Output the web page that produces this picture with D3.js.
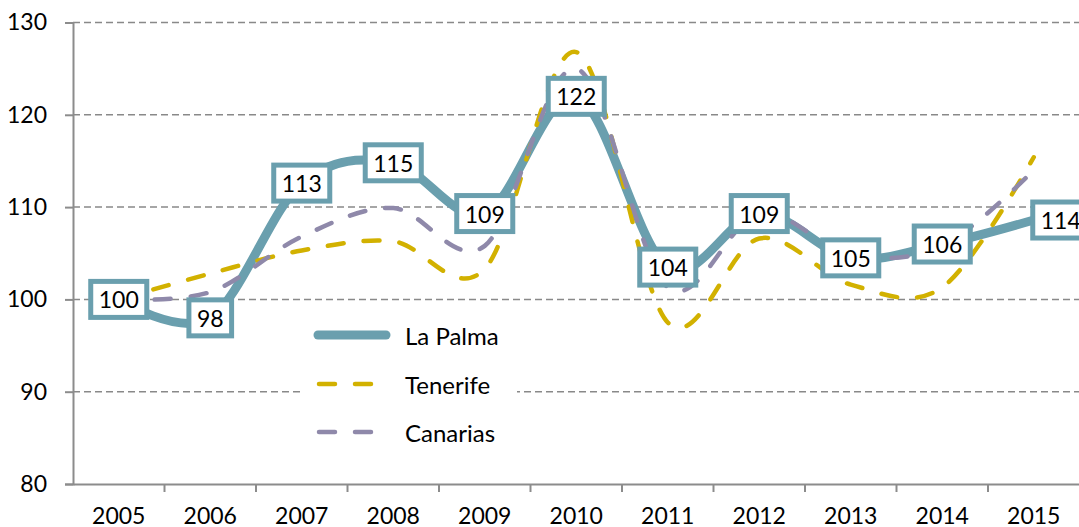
<!DOCTYPE html>
<html>
<head>
<meta charset="utf-8">
<script src="https://cdn.jsdelivr.net/npm/d3@7"></script>
<style>
  body { margin: 0; background: #fff; }
  svg text { font-family: Lato, "Open Sans", sans-serif; fill: #000; }
</style>
</head>
<body>
<svg id="chart" width="1079" height="527"></svg>
<script>
// data
var years = ['2005', '2006', '2007', '2008', '2009', '2010', '2011', '2012', '2013', '2014', '2015'];
var laPalma = [100, 98, 112.6, 114.8, 109.3, 122, 103.5, 109.3, 104.5, 106, 108.6];
var laPalmaLabels = ['100', '98', '113', '115', '109', '122', '104', '109', '105', '106', '114'];
var tenerife = [100, 102.8, 105.3, 106.3, 103.3, 126.8, 97.5, 106.6, 101.6, 101.3, 115.4];
var canarias = [100, 100.8, 106.8, 109.9, 105.8, 125, 101.3, 109.3, 104.8, 105.8, 114];
var yTicks = [80, 90, 100, 110, 120, 130];
var seriesNames = ['La Palma', 'Tenerife', 'Canarias'];

var teal = '#6a9fae';
var gold = '#d2b100';
var lilac = '#8f89aa';

var svg = d3.select('#chart');

var x = d3.scaleBand().domain(years).range([73, 1079.5]);
var y = d3.scaleLinear().domain([80, 130]).range([484, 22.5]);
var cx = function (d, i) { return x(years[i]) + x.bandwidth() / 2; };

// gridlines
svg.append('g').selectAll('line')
    .data(yTicks.filter(function (t) { return t > 80; }))
    .enter().append('line')
    .attr('x1', 73).attr('x2', 1079)
    .attr('y1', function (d) { return y(d); })
    .attr('y2', function (d) { return y(d); })
    .attr('stroke', '#898989')
    .attr('stroke-width', 1.5)
    .attr('stroke-dasharray', '7,4');

// y axis
var yAxis = svg.append('g')
    .attr('transform', 'translate(73,0)')
    .call(d3.axisLeft(y).tickValues(yTicks).tickSize(8).tickPadding(18));
yAxis.select('.domain').attr('stroke', '#8c8c8c').attr('stroke-width', 2);
yAxis.selectAll('.tick line').attr('stroke', '#8c8c8c').attr('stroke-width', 2);
yAxis.selectAll('.tick text').attr('font-size', 23).attr('fill', '#000')
    .style('font-family', 'Lato');

// x axis
var xAxis = svg.append('g')
    .attr('transform', 'translate(0,484)')
    .call(d3.axisBottom(x).tickSize(0).tickPadding(24));
xAxis.select('.domain').attr('stroke', '#8c8c8c').attr('stroke-width', 2);
xAxis.selectAll('.tick text').attr('font-size', 23).attr('fill', '#000')
    .style('font-family', 'Lato');
// tick marks between categories
xAxis.selectAll('.sep')
    .data(years.slice(1))
    .enter().append('line')
    .attr('x1', function (d) { return x(d); })
    .attr('x2', function (d) { return x(d); })
    .attr('y1', 0).attr('y2', 8)
    .attr('stroke', '#8c8c8c').attr('stroke-width', 2);

var line = d3.line()
    .x(cx)
    .y(function (d) { return y(d); })
    .curve(d3.curveCardinal.tension(0));

svg.append('path')
    .attr('d', line(laPalma))
    .attr('fill', 'none')
    .attr('stroke', teal)
    .attr('stroke-width', 9)
    .attr('stroke-linejoin', 'round')
    .attr('stroke-linecap', 'round');

svg.append('path')
    .attr('d', line(tenerife))
    .attr('fill', 'none')
    .attr('stroke', gold)
    .attr('stroke-width', 4.5)
    .attr('stroke-linecap', 'round')
    .attr('stroke-dasharray', '16,20');

svg.append('path')
    .attr('d', line(canarias))
    .attr('fill', 'none')
    .attr('stroke', lilac)
    .attr('stroke-width', 4.5)
    .attr('stroke-linecap', 'round')
    .attr('stroke-dasharray', '16,20');

// data labels for La Palma
var labels = svg.append('g').selectAll('g')
    .data(laPalma)
    .enter().append('g')
    .attr('transform', function (d, i) {
        var px = cx(d, i);
        return 'translate(' + px + ',' + y(d) + ')';
    });

labels.each(function (d, i) {
    var g = d3.select(this);
    var rect = g.append('rect');
    var t = g.append('text')
        .attr('font-size', 23)
        .attr('dominant-baseline', 'central')
        .attr('text-anchor', 'middle')
        .text(laPalmaLabels[i]);
    var w = t.node().getComputedTextLength() + 16;
    var h = 36;
    // the last label sits to the right of its point
    var off = (i === laPalma.length - 1) ? w / 2 - 1 : 0;
    t.attr('x', off);
    rect.attr('x', off - w / 2).attr('y', -h / 2)
        .attr('width', w).attr('height', h)
        .attr('fill', '#fff')
        .attr('stroke', teal)
        .attr('stroke-width', 5);
});

// legend
var legend = svg.append('g');
legend.append('rect')
    .attr('x', 303).attr('y', 312)
    .attr('width', 214).attr('height', 145)
    .attr('fill', '#fff');

var legendStyles = [
    { color: teal, width: 9, dash: null },
    { color: gold, width: 4.5, dash: '16,20' },
    { color: lilac, width: 4.5, dash: '16,20' }
];
var legendY = [335, 384, 432];

seriesNames.forEach(function (name, i) {
    var s = legendStyles[i];
    var l = legend.append('line')
        .attr('x1', i === 0 ? 318 : 319).attr('x2', i === 0 ? 386 : 371)
        .attr('y1', legendY[i]).attr('y2', legendY[i])
        .attr('stroke', s.color)
        .attr('stroke-width', s.width)
        .attr('stroke-linecap', 'round');
    if (s.dash) l.attr('stroke-dasharray', s.dash);
    legend.append('text')
        .attr('x', 405)
        .attr('y', legendY[i])
        .attr('dominant-baseline', 'central')
        .attr('font-size', 24)
        .text(name);
});
</script>
</body>
</html>
